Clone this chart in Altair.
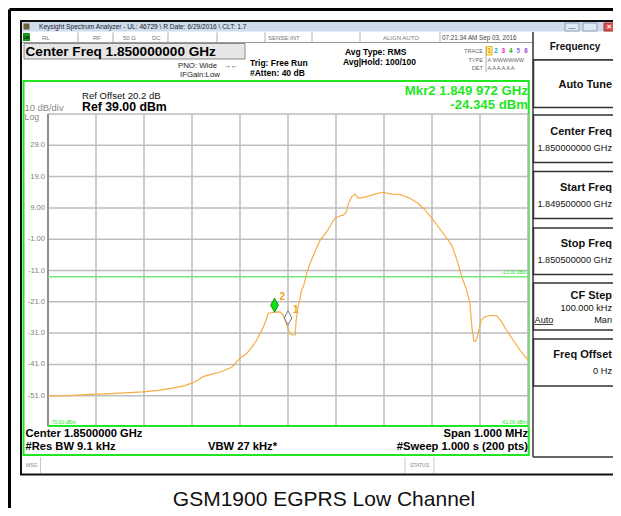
import altair as alt
import pandas as pd

freq_khz = [-500, -455, -412, -380, -350, -302, -270, -240, -215, -200, -185, -177, -160, -142,
            -117, -100, -86, -75, -65, -58, -51, -45, -41, -35, -28, -17, -10, -2, 4, 10, 15,
            17, 21, 25, 28, 32, 39, 46, 56, 67, 81, 91, 98, 108, 115, 122, 126, 133, 140, 146,
            155, 164, 181, 198, 216, 233, 254, 271, 282, 292, 303, 323, 341, 352, 362, 372,
            379, 383, 387, 390, 393, 396, 403, 410, 422, 435, 445, 455, 469, 483, 497, 500]
level_dbm = [-51.1, -51.0, -50.6, -50.4, -50.2, -49.8, -49.3, -48.6, -47.8, -47.0, -45.8, -44.9,
             -44.2, -43.5, -41.9, -39.0, -37.5, -35.5, -33.2, -31.0, -29.0, -26.5, -24.7, -24.5,
             -24.3, -24.2, -25.2, -28.4, -31.3, -31.6, -31.6, -26.8, -22.6, -20.0, -17.2, -16.2,
             -11.9, -8.7, -5.0, -1.3, 1.4, 4.1, 5.7, 6.4, 6.7, 7.8, 10.5, 12.6, 13.4, 12.1, 12.3,
             12.6, 13.4, 14.0, 13.4, 13.3, 12.1, 10.5, 8.9, 7.2, 5.1, 0.9, -2.9, -7.6, -13.0,
             -17.2, -21.5, -29.0, -33.5, -33.7, -33.0, -31.1, -26.8, -25.8, -25.3, -25.5, -27.4,
             -30.0, -33.2, -36.4, -39.1, -39.6]

grid_freqs = [-500, -400, -300, -200, -100, 0, 100, 200, 300, 400, 500]
grid_levels = [39, 29, 19, 9, -1, -11, -21, -31, -41, -51]
y_tick_values = [29, 19, 9, -1, -11, -21, -31, -41, -51]
y_tick_labels = ["29.0", "19.0", "9.00", "-1.00", "-11.0", "-21.0", "-31.0", "-41.0", "-51.0"]
display_line = [-13.0]
marker_freq = [-28, 0]
marker_level = [-24.345, -28.4]
marker_name = ["2", "1"]

FONT = "Liberation Sans"
OX, OY = 48, 114          # page position of the graticule's top-left corner
W, H = 480, 313
TRACE_C = "#f6ad45"
GREEN = "#22e622"
RX = 612                  # right edge used for the soft-key texts (visible page edge)

xs = alt.Scale(domain=[-500, 500], nice=False, zero=False)
ys = alt.Scale(domain=[-61, 39], nice=False, zero=False)

one = [{"k": 0}]


def txt(s, px, py, size, color="#000", weight="normal", align="left", font=FONT):
    return alt.Chart(alt.Data(values=one)).mark_text(
        text=s, fontSize=size, fontWeight=weight, color=color, align=align,
        baseline="middle", font=font
    ).encode(x=alt.value(px - OX), y=alt.value(py - OY))


def box(x1, y1, x2, y2, fill="#fff", stroke="#000", sw=1.0, opacity=1):
    kw = dict(fill=fill, strokeWidth=sw, opacity=opacity)
    if stroke:
        kw["stroke"] = stroke
    return alt.Chart(alt.Data(values=one)).mark_rect(**kw).encode(
        x=alt.value(x1 - OX), x2=alt.value(x2 - OX), y=alt.value(y1 - OY), y2=alt.value(y2 - OY))


def line(x1, y1, x2, y2, color="#000", sw=1.0):
    return alt.Chart(alt.Data(values=one)).mark_rule(color=color, strokeWidth=sw).encode(
        x=alt.value(x1 - OX), x2=alt.value(x2 - OX), y=alt.value(y1 - OY), y2=alt.value(y2 - OY))


layers = []
# outer frame of the picture
layers += [line(9.5, 9.5, 640, 9.5, "#000", 3), line(9.5, 9.5, 9.5, 530, "#000", 3)]
# window frame
layers += [box(21, 21, 640, 474.5, "#ffffff", "#111", 2)]
# title bar
layers += [box(22, 22, 640, 31.5, "#cfdcee", None),
           box(23.5, 23.5, 29.5, 29.5, "#6b5d3a", None),
           txt("Keysight Spectrum Analyzer - UL: 46729 \\ R Date: 6/29/2016 \\ CLT: 1.7", 39, 27, 6.6, "#222"),
           box(565, 23, 579, 31, "#dfe7f2", "#8d9cb3", 1),
           box(583, 23, 597, 31, "#dfe7f2", "#8d9cb3", 1),
           box(604, 23, 630, 31, "#d9534f", "#a33", 1),
           txt("—", 572, 27.5, 7, "#555", align="center"),
           txt("×", 609, 27, 8, "#fff", "bold", align="center")]
# status row
layers += [line(22, 42.5, 533, 42.5, "#9a9a9a", 1),
           box(23, 33, 30, 41, "#1a9a1a", None),
           txt("LXI", 26.5, 37.5, 4, "#000", "bold", align="center")]
for sx in [78, 113, 168, 217, 265, 312, 360, 440]:
    layers.append(line(sx, 32.5, sx, 42, "#b0b0b0", 1))
for s, px in [("RL", 42), ("RF", 93), ("50 Ω", 123), ("DC", 152), ("SENSE:INT", 268), ("ALIGN AUTO", 383)]:
    layers.append(txt(s, px, 37.5, 6, "#777"))
layers.append(txt("07:21:34 AM Sep 03, 2016", 442, 37.5, 6.3, "#444"))

# header
layers += [box(24, 43.5, 245, 59, "#e6e6e6", "#8a8a8a", 1),
           txt("Center Freq 1.850000000 GHz", 25.5, 51.5, 13.6, "#000", "bold"),
           txt("PNO: Wide", 178, 66, 7.8, "#222"),
           txt("→←", 224, 66, 7, "#222"),
           txt("IFGain:Low", 180, 75, 7.8, "#222"),
           txt("Trig: Free Run", 250, 62.7, 8.5, "#000", "bold"),
           txt("#Atten: 40 dB", 250, 72.7, 8.5, "#000", "bold"),
           txt("Avg Type: RMS", 345, 51.7, 8.5, "#000", "bold"),
           txt("Avg|Hold: 100/100", 343, 61.7, 8.5, "#000", "bold"),
           txt("TRACE", 483, 50.7, 5.6, "#666", align="right"),
           txt("TYPE", 483, 60, 5.6, "#666", align="right"),
           txt("DET", 483, 68.3, 5.6, "#666", align="right"),
           line(486, 47, 486, 72, "#999", 0.8),
           box(486.5, 46.5, 492, 55, "#fff3a0", "#e0a000", 0.8)]
for d, px, c in [("1", 489.3, "#f08c00"), ("2", 496, "#00b6e6"), ("3", 503.3, "#e020c0"),
                 ("4", 510.7, "#20b020"), ("5", 518.3, "#8a6cf0"), ("6", 526, "#a040e0")]:
    layers.append(txt(d, px, 50.7, 6.3, c, "bold", align="center"))
layers += [txt("A WWWWWW", 487.5, 60, 5.6, "#666"),
           txt("A A A A A A", 487.5, 68.3, 5.6, "#666")]

# green graph frame
layers += [box(23.5, 81, 528.7, 455, "#ffffff", GREEN, 2),
           txt("Mkr2 1.849 972 GHz", 528, 90.5, 13.2, GREEN, "bold", align="right"),
           txt("-24.345 dBm", 528, 104.5, 13.2, GREEN, "bold", align="right"),
           txt("Ref Offset 20.2 dB", 82, 96, 9.6, "#111"),
           txt("Ref 39.00 dBm", 82, 107, 12.3, "#000", "bold"),
           txt("10 dB/div", 24.5, 107.5, 9.4, "#888"),
           txt("Log", 24.5, 116.5, 8.8, "#888")]

# graticule
df_xg = pd.DataFrame({"f": grid_freqs})
df_yg = pd.DataFrame({"v": grid_levels})
df_yl = pd.DataFrame({"v": y_tick_values, "lab": y_tick_labels})
layers.append(alt.Chart(df_xg).mark_rule(color="#bdbdbd", strokeWidth=1.5).encode(
    x=alt.X("f:Q", scale=xs, axis=None)))
layers.append(alt.Chart(df_yg).mark_rule(color="#bdbdbd", strokeWidth=1.5).encode(
    y=alt.Y("v:Q", scale=ys, axis=None)))
layers.append(line(48, 114, 48, 426, "#8f8f8f", 2))
layers.append(line(48, 426, 528, 426, GREEN, 2))
layers.append(alt.Chart(df_yl).mark_text(align="right", baseline="middle", fontSize=7.6,
                                          color="#808080", font=FONT).encode(
    y=alt.Y("v:Q", scale=ys, axis=None), x=alt.value(45 - OX), text="lab:N"))

# display line
df_dl = pd.DataFrame({"v": display_line})
layers.append(alt.Chart(df_dl).mark_rule(color="#7be87b", strokeWidth=1.6).encode(
    y=alt.Y("v:Q", scale=ys, axis=None)))
layers += [txt("-13.00 dBm", 527, 272, 5, GREEN, align="right"),
           txt("-61.00 dBm", 527, 421.5, 5, GREEN, align="right"),
           txt("-70.00 dBm", 50, 422, 5, GREEN)]

# trace
df_tr = pd.DataFrame({"freq": freq_khz, "level": level_dbm})
layers.append(alt.Chart(df_tr).mark_line(color=TRACE_C, strokeWidth=1.2).encode(
    x=alt.X("freq:Q", scale=xs, axis=None), y=alt.Y("level:Q", scale=ys, axis=None)))

# markers (diamond sitting on the trace point)
diamond = "M0,-2L0.55,-1L0,0L-0.55,-1Z"
df_m = pd.DataFrame({"freq": marker_freq, "level": marker_level, "name": marker_name})
layers.append(alt.Chart(df_m[df_m["name"] == "2"]).mark_point(
    shape=diamond, size=200, filled=True, fill="#10e010", stroke="#0a7a0a", strokeWidth=0.8, opacity=1
).encode(x=alt.X("freq:Q", scale=xs, axis=None), y=alt.Y("level:Q", scale=ys, axis=None)))
layers.append(alt.Chart(df_m[df_m["name"] == "1"]).mark_point(
    shape=diamond, size=200, filled=True, fill="#ffffff", stroke="#777777", strokeWidth=1, opacity=1
).encode(x=alt.X("freq:Q", scale=xs, axis=None), y=alt.Y("level:Q", scale=ys, axis=None)))
layers.append(alt.Chart(df_m).mark_text(align="left", baseline="middle", dx=5, dy=-15,
                                         fontSize=10, fontWeight="bold", color="#f0a020", font=FONT).encode(
    x=alt.X("freq:Q", scale=xs, axis=None), y=alt.Y("level:Q", scale=ys, axis=None), text="name:N"))

# bottom annotations
layers += [txt("Center 1.8500000 GHz", 25.5, 434, 11.2, "#000", "bold"),
           txt("#Res BW 9.1 kHz", 25.5, 447, 11.2, "#000", "bold"),
           txt("VBW 27 kHz*", 208, 447, 11.2, "#000", "bold"),
           txt("Span 1.000 MHz", 528, 434, 11.2, "#000", "bold", align="right"),
           txt("#Sweep  1.000 s (200 pts)", 528, 447, 11.2, "#000", "bold", align="right")]
# message bar
layers += [line(40.5, 457, 40.5, 473, "#c8c8c8", 1),
           line(405, 457, 405, 473, "#c8c8c8", 1),
           line(434, 457, 434, 473, "#c8c8c8", 1),
           txt("MSG", 26, 465, 5, "#888"),
           txt("STATUS", 419.5, 465, 5, "#888", align="center")]

# soft-key panel
layers += [line(533, 32, 533, 457, "#333", 1.5),
           line(533, 457, 640, 457, "#333", 1.5),
           line(533, 59.5, 640, 59.5, "#555", 1),
           txt("Frequency", 575, 46.7, 10, "#111", "bold", align="center")]
keys = [(60, 107.5, [("Auto Tune", 85, 11, "bold")]),
        (115, 162.5, [("Center Freq", 132, 11, "bold"), ("1.850000000 GHz", 148, 9.2, "normal")]),
        (171.5, 218.5, [("Start Freq", 188, 11, "bold"), ("1.849500000 GHz", 203.5, 9.2, "normal")]),
        (228, 274.5, [("Stop Freq", 244, 11, "bold"), ("1.850500000 GHz", 259.5, 9.2, "normal")]),
        (283, 330, [("CF Step", 296, 11, "bold"), ("100.000 kHz", 307.5, 9.2, "normal"),
                    ("Man", 319.5, 9.2, "normal")]),
        (339, 386, [("Freq Offset", 355, 11, "bold"), ("0 Hz", 371, 9.2, "normal")])]
for y1, y2, lines_ in keys:
    layers.append(box(533.5, y1, 640, y2, "#ffffff", "#333", 1.5))
    for s, py, sz, wt in lines_:
        layers.append(txt(s, RX, py, sz, "#111", wt, align="right"))
layers += [txt("Auto", 534.5, 319.5, 9.2, "#111"),
           line(534.5, 324.5, 553, 324.5, "#111", 0.8)]

# caption (raised a little so it stays inside the visible page)
layers.append(txt("GSM1900 EGPRS  Low Channel", 324, 499.5, 21, "#111", align="center"))

# SVG = 605 x 500: the page's 8px margin must not overflow the 621x516 window
chart = alt.layer(*layers).properties(
    width=W, height=H,
    autosize=alt.AutoSizeParams(type="none"),
    padding={"left": OX - 8, "top": OY - 8, "right": 621 - 8 - OX - W, "bottom": 516 - 8 - OY - H},
    background="#ffffff",
).configure_view(stroke=None)

chart.save("out.html", embed_options={"renderer": "svg", "actions": False})
